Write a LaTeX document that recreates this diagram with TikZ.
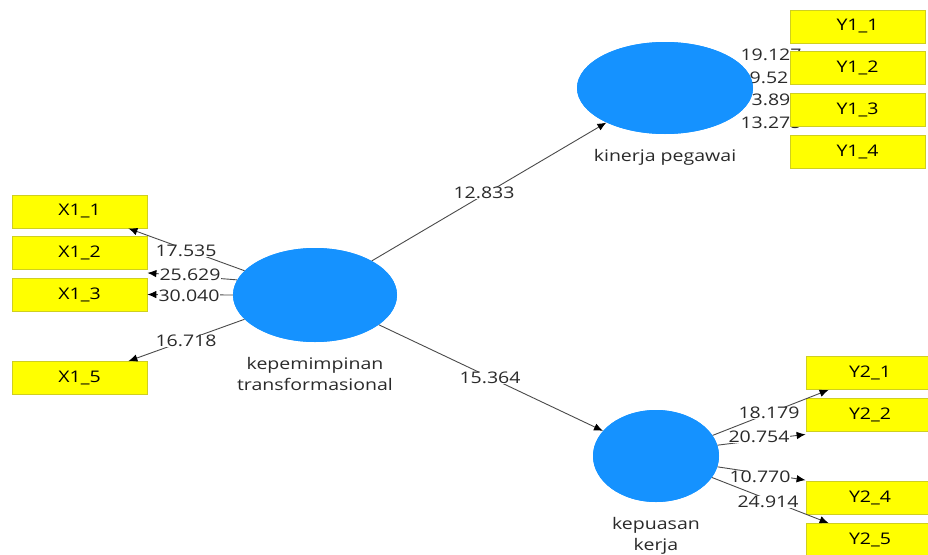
\documentclass[tikz,border=0pt]{standalone}
\usepackage{fontspec}
\setmainfont[FakeStretch=1.22]{Open Sans}
\usetikzlibrary{shapes.geometric,arrows.meta}
\definecolor{lv}{HTML}{1592FF}
\definecolor{ind}{HTML}{FFFF00}
\definecolor{indb}{HTML}{CFCF20}
\definecolor{txt}{HTML}{2A2A2A}
\definecolor{ln}{HTML}{4A4A4A}
\tikzset{
  latent/.style={ellipse,fill=lv,draw=none,inner sep=0pt},
  indbox/.style={rectangle,fill=ind,draw=indb,line width=0.8pt,inner sep=0pt,text=black,font=\fontsize{16}{18}\selectfont},
  lbl/.style={fill=white,inner sep=0.5pt,text=txt,font=\fontsize{16}{18}\selectfont},
  lvname/.style={text=txt,font=\fontsize{16}{21}\selectfont,align=center,inner sep=0pt},
  conn/.style={draw=ln,line width=0.9pt,-{Latex[length=9pt,width=7.5pt,black]}},
}
\begin{document}
\begin{tikzpicture}[x=1pt,y=-1pt]
\useasboundingbox (0,0) rectangle (928,554);
% latent variables (positions)
\coordinate (kc) at (315,295);
\coordinate (pc) at (665,88);
\coordinate (qc) at (656,456);
\node[latent,minimum width=164pt,minimum height=94pt] (k) at (kc) {};
\node[latent,minimum width=176pt,minimum height=92pt] (p) at (pc) {};
\node[latent,minimum width=126pt,minimum height=92pt] (q) at (qc) {};
% indicator boxes
\node[indbox,minimum width=135pt,minimum height=33pt] (X11) at (79.5,211.5) {X1\_1};
\node[indbox,minimum width=135pt,minimum height=33pt] (X12) at (79.5,253) {X1\_2};
\node[indbox,minimum width=135pt,minimum height=33pt] (X13) at (79.5,294.5) {X1\_3};
\node[indbox,minimum width=135pt,minimum height=33pt] (X15) at (79.5,378) {X1\_5};
% connectors
\draw[conn] (k.161) -- ([xshift=-19pt]X11.south east);
\draw[conn] (k.169.5) -- ([yshift=-3pt]X12.south east);
\draw[conn] (k.180) -- (X13.east);
\draw[conn] (k.199) -- ([xshift=-19pt]X15.north east);
\draw[conn] (k.31) -- (p);
\draw[conn] (k.335) -- (q);
\node[lbl] (l1) at (186,251) {17.535};
\node[lbl] (l2) at (190,275) {25.629};
\node[lbl] (l3) at (189,296) {30.040};
\node[lbl] (l5) at (186,341) {16.718};
\node[lbl] (lp) at (484,193) {12.833};
\node[lbl] (lq) at (490,378) {15.364};
% Y2 boxes
\node[indbox,minimum width=128pt,minimum height=33pt] (Y21) at (870,373) {Y2\_1};
\node[indbox,minimum width=128pt,minimum height=33pt] (Y22) at (870,414.5) {Y2\_2};
\node[indbox,minimum width=128pt,minimum height=33pt] (Y24) at (870,498) {Y2\_4};
\node[indbox,minimum width=128pt,minimum height=33pt] (Y25) at (870,540) {Y2\_5};
\draw[conn] (q.20) -- ([xshift=23pt]Y21.south west);
\draw[conn] (q.10) -- ([yshift=-3pt]Y22.south west);
\draw[conn] (q.350) -- ([yshift=1pt]Y24.north west);
\draw[conn] (q.339) -- ([xshift=23pt]Y25.north west);
\node[lbl] (m1) at (769,413) {18.179};
\node[lbl] (m2) at (759,437) {20.754};
\node[lbl] (m4) at (760,477) {10.770};
\node[lbl] (m5) at (768,502) {24.914};
% kinerja loadings labels (partly hidden)
\node[lbl,fill=none] (n1) at (771,55) {19.127};
\node[lbl,fill=none,anchor=west] (n2) at (749,78) {9.52};
\node[lbl,fill=none,anchor=west] (n3) at (751,100) {3.89};
\node[lbl,fill=none] (n4) at (771,123) {13.275};
% redraw latent on top
\node[latent,minimum width=176pt,minimum height=92pt] at (pc) {};
% Y1 boxes
\node[indbox,minimum width=135pt,minimum height=33pt] (Y11) at (857.5,26.5) {Y1\_1};
\node[indbox,minimum width=135pt,minimum height=33pt] (Y12) at (857.5,68) {Y1\_2};
\node[indbox,minimum width=135pt,minimum height=33pt] (Y13) at (857.5,109.5) {Y1\_3};
\node[indbox,minimum width=135pt,minimum height=33pt] (Y14) at (857.5,151.5) {Y1\_4};
% redraw ellipses on top of connector starts
\node[latent,minimum width=164pt,minimum height=94pt] at (kc) {};
\node[latent,minimum width=126pt,minimum height=92pt] at (qc) {};
% names
\node[lvname] (kn) at (315,374) {kepemimpinan\\transformasional};
\node[lvname] (pn) at (665,157) {kinerja pegawai};
\node[lvname] (qn) at (656,536) {kepuasan\\kerja};
\end{tikzpicture}
\end{document}
